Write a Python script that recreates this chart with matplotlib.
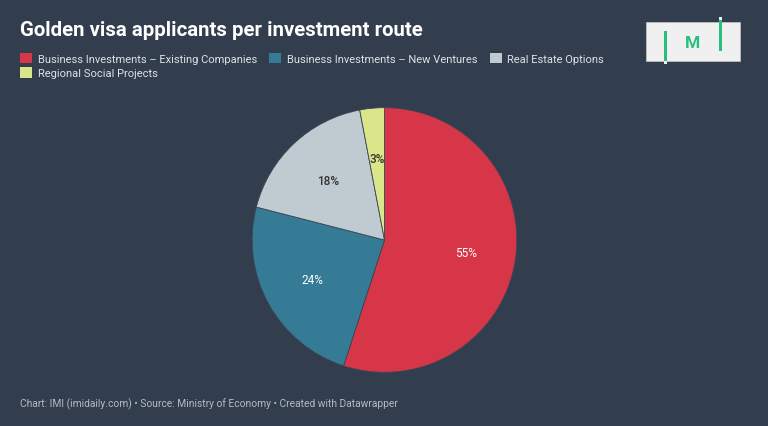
import matplotlib.pyplot as plt
from matplotlib.patches import Rectangle, Patch

plt.rcParams['font.family'] = ['Roboto', 'DejaVu Sans']

# data
routes = ['Business Investments – Existing Companies', 'Business Investments – New Ventures',
          'Real Estate Options', 'Regional Social Projects']
shares = [55, 24, 18, 3]
colors = ['#d73648', '#367b96', '#bfcbd0', '#dbe58a']
label_colors = ['white', 'white', '#333333', '#333333']

bg = '#323d4d'
fig = plt.figure(figsize=(7.68, 4.27), dpi=100, facecolor=bg)

# pie
ax = fig.add_axes([(384.5 - 133) / 768, 1 - (241 + 133) / 427, 266 / 768, 266 / 427])
ax.set_facecolor(bg)
wedges, texts, autotexts = ax.pie(shares, colors=colors, startangle=90, counterclock=False,
                                  autopct='%d%%', pctdistance=0.62,
                                  wedgeprops=dict(edgecolor='#3a4656', linewidth=0.6))
for t, c in zip(autotexts, label_colors):
    t.set_color(c)
    t.set_fontsize(8.5)
    if c != 'white':
        t.set_fontweight('medium')
ax.set_xlim(-1.005, 1.005)
ax.set_ylim(-1.005, 1.005)
ax.set_aspect('equal')

# title
fig.text(20 / 768, 1 - 31 / 427, 'Golden visa applicants per investment route', color='white',
         fontsize=14.7, fontweight='bold', va='center', ha='left')

# legend (reordered so it fills row by row)
order = [0, 3, 1, 2]
handles = [Patch(facecolor=colors[i], edgecolor='none') for i in order]
leg = fig.legend(handles, [routes[i] for i in order], loc='upper left',
                 bbox_to_anchor=(12 / 768, 1 - 46 / 427),
                 ncol=3, frameon=False, fontsize=8, labelcolor='#dde2e8',
                 handlelength=1.1, handleheight=1.1, handletextpad=0.5,
                 columnspacing=1.1, labelspacing=0.3, borderpad=0.2)

# footer
fig.text(20 / 768, 1 - 404 / 427,
         'Chart: IMI (imidaily.com) • Source: Ministry of Economy • Created with Datawrapper',
         color='#b4bbc4', fontsize=7.4, va='center', ha='left')

# logo
lax = fig.add_axes([0, 0, 1, 1], facecolor='none')
lax.set_xlim(0, 768)
lax.set_ylim(427, 0)
lax.axis('off')
lax.add_patch(Rectangle((646, 23), 94, 39, facecolor='#f0f0f0', edgecolor='#c8c8c8', linewidth=0.5))
green = '#2bbd7e'
lax.add_patch(Rectangle((663.5, 32), 3, 30, facecolor=green, edgecolor='none'))
lax.add_patch(Rectangle((663.5, 62), 3, 3, facecolor='#f0f0f0', edgecolor='none'))
lax.add_patch(Rectangle((718.5, 21), 3, 31, facecolor=green, edgecolor='none'))
lax.add_patch(Rectangle((718.5, 18), 3, 3, facecolor='#f0f0f0', edgecolor='none'))
lax.text(692, 43, 'M', color=green, fontsize=12.5, fontweight='bold', ha='center', va='center')

fig.savefig('out.png', dpi=100, facecolor=bg)
